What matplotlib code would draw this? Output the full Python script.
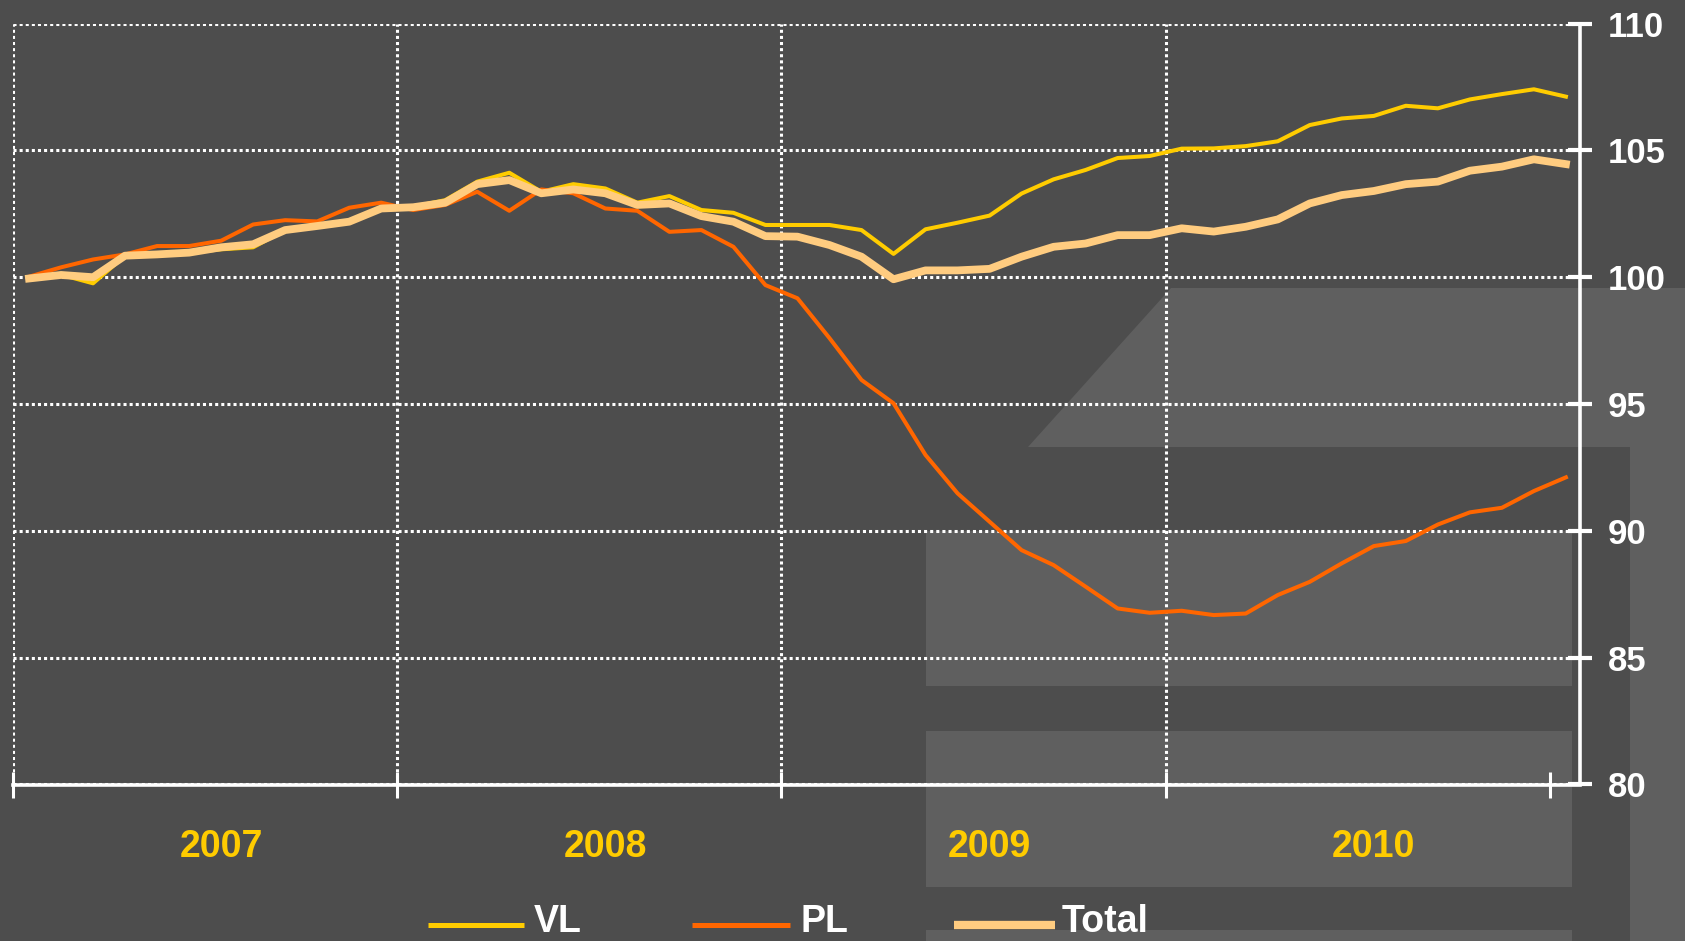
import matplotlib
matplotlib.use('Agg')
import matplotlib.pyplot as plt
import matplotlib.transforms as mtransforms
from matplotlib.patches import Polygon, Rectangle
from matplotlib.lines import Line2D
import numpy as np

plt.rcParams['font.family'] = ['Liberation Sans', 'DejaVu Sans']

# monthly index, Jan 2007 = 100
years = ['2007', '2008', '2009', '2010']
vl = [100.0, 100.1, 99.76, 100.85, 100.9, 100.97, 101.1, 101.18, 101.86, 102.0,
      102.2, 102.7, 102.78, 103.04, 103.77, 104.12, 103.37, 103.67, 103.5, 102.94,
      103.2, 102.65, 102.54, 102.06, 102.06, 102.06, 101.86, 100.92, 101.89, 102.15,
      102.43, 103.3, 103.86, 104.23, 104.7, 104.78, 105.07, 105.08, 105.17, 105.36,
      106.0, 106.26, 106.36, 106.76, 106.66, 107.01, 107.22, 107.41, 107.12]
pl = [100.02, 100.39, 100.7, 100.9, 101.23, 101.23, 101.44, 102.08, 102.25, 102.2,
      102.74, 102.94, 102.65, 102.85, 103.37, 102.62, 103.46, 103.31, 102.71, 102.62,
      101.79, 101.86, 101.2, 99.69, 99.17, 97.6, 95.95, 95.03, 92.99, 91.48,
      90.36, 89.24, 88.65, 87.8, 86.94, 86.77, 86.85, 86.68, 86.74, 87.47,
      87.99, 88.72, 89.4, 89.6, 90.25, 90.73, 90.91, 91.57, 92.11]
total = [99.95, 100.09, 100.0, 100.85, 100.9, 100.97, 101.18, 101.3, 101.86, 102.02,
         102.19, 102.71, 102.76, 102.94, 103.67, 103.83, 103.31, 103.46, 103.31, 102.85,
         102.91, 102.41, 102.19, 101.62, 101.6, 101.27, 100.81, 99.92, 100.27, 100.27,
         100.33, 100.81, 101.2, 101.33, 101.66, 101.66, 101.93, 101.8, 101.99, 102.28,
         102.91, 103.24, 103.4, 103.67, 103.77, 104.2, 104.36, 104.65, 104.46]
series_names = ['VL', 'PL', 'Total']

months = np.arange(len(vl))

W, H = 1685, 941
BG = '#4d4d4d'
LIGHT = '#5f5f5f'
C_VL = '#ffcc00'
C_PL = '#ff6600'
C_TOT = '#ffcc80'


def fx(x):
    return x / W


def fy(y):
    return 1 - y / H


fig = plt.figure(figsize=(W / 100, H / 100), dpi=100, facecolor=BG)

# decorative background shapes
poly = [(1028, 447), (1171, 288), (1685, 288), (1685, 941), (1630, 941), (1630, 447)]
fig.patches.append(Polygon([(fx(a), fy(b)) for a, b in poly], closed=True,
                           facecolor=LIGHT, edgecolor='none',
                           transform=fig.transFigure, zorder=-5))
for x0, y0, x1, y1 in [(926, 531, 1572, 686), (926, 731, 1572, 887), (926, 930, 1572, 941)]:
    fig.patches.append(Rectangle((fx(x0), fy(y1)), fx(x1) - fx(x0), (y1 - y0) / H,
                                 facecolor=LIGHT, edgecolor='none',
                                 transform=fig.transFigure, zorder=-5))

ax = fig.add_axes([fx(13), fy(784.5), fx(1580) - fx(13), (784.5 - 23.6) / H])
ax.set_facecolor('none')

ax.plot(months, vl, color=C_VL, lw=2.9, zorder=3)
ax.plot(months, pl, color=C_PL, lw=2.9, zorder=4)
ax.plot(months, total, color=C_TOT, lw=5.6, zorder=5)

ax.set_xlim(-0.5, 48.44)
ax.set_ylim(80, 110)

# grid
ax.set_yticks(range(80, 111, 5))
ax.yaxis.grid(True, color='white', linestyle=(0, (1, 1)), lw=2.2, zorder=1)
bounds = [12 * i - 0.5 for i in range(len(years) + 1)]
ax.vlines(bounds[:-1], 80, 110, colors='white', linestyles=(0, (1, 1)), lw=2.2, zorder=1)

for s in ['left', 'top']:
    ax.spines[s].set_visible(False)
for s in ['right', 'bottom']:
    ax.spines[s].set_color('white')
    ax.spines[s].set_linewidth(2.6)
    ax.spines[s].set_zorder(6)

ax.set_xticks(bounds)
ax.set_xticklabels([])
ax.tick_params(axis='x', direction='inout', length=18.7, width=2.2, color='white')

ax.yaxis.tick_right()
ax.tick_params(axis='y', direction='inout', length=17, width=3, color='white',
               labelcolor='white', labelsize=25, pad=11.5)
for lab in ax.get_yticklabels():
    lab.set_fontweight('bold')

trans = mtransforms.blended_transform_factory(ax.transData, ax.transAxes)
for i, yr in enumerate(years):
    ax.text(12 * i + 6, -0.0959, yr, transform=trans, ha='center', va='baseline',
            color=C_VL, fontsize=27, fontweight='bold')

# legend along the bottom edge
leg = [(428, 524, 534, C_VL, 3.6), (692, 790, 800, C_PL, 3.6), (954, 1055, 1062, C_TOT, 6.0)]
for (x0, x1, xt, c, lw), name in zip(leg, series_names):
    fig.add_artist(Line2D([fx(x0), fx(x1)], [fy(925), fy(925)], color=c, lw=lw,
                          transform=fig.transFigure, solid_capstyle='butt'))
    fig.text(fx(xt), fy(932), name, color='white', fontsize=27, fontweight='bold',
             ha='left', va='baseline')

fig.savefig('out.png', dpi=100, facecolor=BG)
